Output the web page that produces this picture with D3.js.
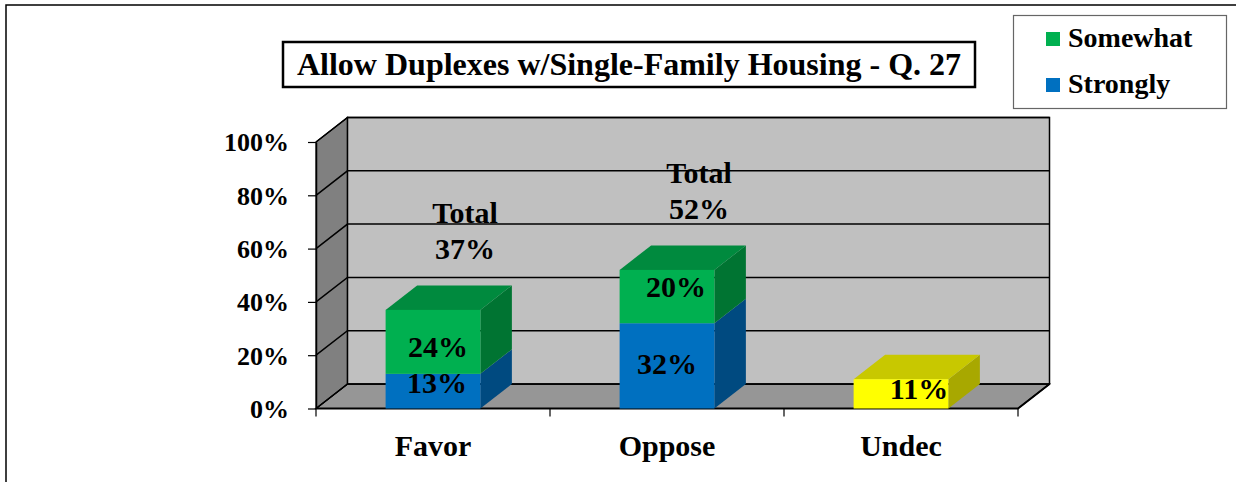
<!DOCTYPE html>
<html>
<head>
<meta charset="utf-8">
<script src="https://cdn.jsdelivr.net/npm/d3@7"></script>
<style>
  body { margin: 0; background: #fff; }
</style>
</head>
<body>
<div id="chart"></div>
<script>
// data
var categories = ["Favor", "Oppose", "Undec"];
var strongly = [0.13, 0.32, 0];
var somewhat = [0.24, 0.20, 0];
var undecided = [0, 0, 0.11];
var yTicks = [0, 0.2, 0.4, 0.6, 0.8, 1];
var seriesNames = ["Strongly", "Somewhat", "Undec"];
var legendItems = ["Somewhat", "Strongly"];
var titleText = "Allow Duplexes w/Single-Family Housing - Q. 27";

// label nudges, Excel puts the labels a bit off the middle
var labelNudge = {
  "Strongly": [[4, -8], [0, -2], [0, 0]],
  "Somewhat": [[5, 5], [9, -10], [0, 0]],
  "Undec": [[0, 0], [0, 0], [18, -5]]
};

var FONT = "'Liberation Serif', 'DejaVu Serif', serif";
var width = 1236, height = 482;

var svg = d3.select("#chart").append("svg")
    .attr("width", width)
    .attr("height", height);

function txt(sel, size) {
  return sel.style("font-family", FONT)
    .style("font-weight", "bold")
    .style("font-size", size + "px")
    .attr("fill", "#000");
}

// outer frame (only top & left show up)
svg.append("path")
    .attr("d", "M6,482V5H1236")
    .attr("fill", "none")
    .attr("stroke", "#000")
    .attr("stroke-width", 1.5);

var x = d3.scaleBand()
    .domain(categories)
    .range([316, 1018]);

var y = d3.scaleLinear()
    .domain([0, 1])
    .range([408.5, 142]);

var dx = 31.5, dy = -24.5;   // 3d depth
var barW = x.bandwidth() * 0.405;

var colors = {
  "Strongly": {front: "#0070C0", top: "#005A9A", side: "#004A80"},
  "Somewhat": {front: "#00B050", top: "#008A3E", side: "#007432"},
  "Undec":    {front: "#FFFF00", top: "#C8C800", side: "#A8A800"}
};

var x0 = x.range()[0], x1 = x.range()[1];
var y0 = y(0), y1 = y(1);

// walls
var walls = svg.append("g");
walls.append("polygon")   // floor
    .attr("points", [[x0, y0], [x1, y0], [x1 + dx, y0 + dy], [x0 + dx, y0 + dy]].join(" "))
    .attr("fill", "#969696")
    .attr("stroke", "#000").attr("stroke-width", 1.2);
walls.append("polygon")   // left wall
    .attr("points", [[x0, y0], [x0, y1], [x0 + dx, y1 + dy], [x0 + dx, y0 + dy]].join(" "))
    .attr("fill", "#808080")
    .attr("stroke", "#000").attr("stroke-width", 1.2);
walls.append("rect")      // back wall
    .attr("x", x0 + dx).attr("y", y1 + dy)
    .attr("width", x1 - x0).attr("height", y0 - y1)
    .attr("fill", "#C0C0C0")
    .attr("stroke", "#000").attr("stroke-width", 1.5);

// gridlines: back wall + diagonal on left wall
walls.selectAll(".grid")
    .data(yTicks)
    .enter().append("path")
    .attr("class", "grid")
    .attr("d", function(d) {
      return "M" + x0 + "," + y(d) + "L" + (x0 + dx) + "," + (y(d) + dy) + "H" + (x1 + dx);
    })
    .attr("fill", "none")
    .attr("stroke", "#000")
    .attr("stroke-width", 1.5);

// front floor edge + right floor edge
walls.append("path")
    .attr("d", "M" + x0 + "," + y0 + "H" + x1 + "L" + (x1 + dx) + "," + (y0 + dy))
    .attr("fill", "none").attr("stroke", "#000").attr("stroke-width", 2);

// y axis
var yAxis = svg.append("g")
    .attr("transform", "translate(" + x0 + ",0)")
    .call(d3.axisLeft(y).tickValues(yTicks).tickFormat(d3.format(".0%"))
      .tickSize(8).tickSizeOuter(0).tickPadding(19));
yAxis.attr("font-family", null).attr("font-size", null);
yAxis.select(".domain").attr("stroke", "#000").attr("stroke-width", 1.5);
yAxis.selectAll("line").attr("stroke", "#000").attr("stroke-width", 1.2);
txt(yAxis.selectAll("text"), 26).attr("dy", "0.34em");

// x axis ticks at band edges
var edges = categories.map(function(c) { return x(c); }).concat([x1]);
svg.append("g").selectAll("line")
    .data(edges)
    .enter().append("line")
    .attr("x1", function(d) { return d; }).attr("x2", function(d) { return d; })
    .attr("y1", y0).attr("y2", y0 + 8)
    .attr("stroke", "#000").attr("stroke-width", 1.2);

txt(svg.append("g").selectAll("text")
    .data(categories)
    .enter().append("text")
    .attr("x", function(d) { return x(d) + x.bandwidth() / 2; })
    .attr("y", 456)
    .attr("text-anchor", "middle"), 30)
    .text(function(d) { return d; });

// stacked 3d bars
var rows = categories.map(function(c, i) {
  return {cat: c, Strongly: strongly[i], Somewhat: somewhat[i], Undec: undecided[i]};
});
var stack = d3.stack().keys(seriesNames)(rows);
var totals = rows.map(function(r) { return r.Strongly + r.Somewhat + r.Undec; });

var bars = svg.append("g");
stack.forEach(function(series) {
  var key = series.key;
  series.forEach(function(seg, i) {
    if (seg[1] - seg[0] <= 0) return;
    var cx = x(categories[i]) + x.bandwidth() / 2;
    var xl = cx - barW / 2, xr = cx + barW / 2;
    var yt = y(seg[1]), yb = y(seg[0]);
    bars.append("polygon")   // side
        .attr("points", [[xr, yb], [xr, yt], [xr + dx, yt + dy], [xr + dx, yb + dy]].join(" "))
        .attr("fill", colors[key].side);
    if (Math.abs(seg[1] - totals[i]) < 1e-9) {
      bars.append("polygon")   // top
          .attr("points", [[xl, yt], [xr, yt], [xr + dx, yt + dy], [xl + dx, yt + dy]].join(" "))
          .attr("fill", colors[key].top);
    }
    bars.append("rect")   // front
        .attr("x", xl).attr("y", yt)
        .attr("width", barW).attr("height", yb - yt)
        .attr("fill", colors[key].front);
  });
});

// value labels
var labels = svg.append("g");
stack.forEach(function(series) {
  var key = series.key;
  series.forEach(function(seg, i) {
    var v = seg[1] - seg[0];
    if (v <= 0) return;
    var cx = x(categories[i]) + x.bandwidth() / 2;
    var nd = labelNudge[key][i];
    txt(labels.append("text")
        .attr("x", cx + nd[0])
        .attr("y", y((seg[0] + seg[1]) / 2) + nd[1])
        .attr("dy", "0.34em")
        .attr("text-anchor", "middle"), 30)
        .text(d3.format(".0%")(v));
  });
});

// totals above the favor/oppose stacks
rows.forEach(function(r, i) {
  var t = r.Strongly + r.Somewhat;
  if (t <= 0) return;
  var cx = x(r.cat) + x.bandwidth() / 2 + 32;
  txt(labels.append("text")
      .attr("x", cx).attr("y", y(t) - 87)
      .attr("text-anchor", "middle"), 30)
      .text("Total");
  txt(labels.append("text")
      .attr("x", cx).attr("y", y(t) - 51)
      .attr("text-anchor", "middle"), 30)
      .text(d3.format(".0%")(t));
});

// title box
var title = svg.append("g");
title.append("rect")
    .attr("x", 283).attr("y", 42)
    .attr("width", 692).attr("height", 45)
    .attr("fill", "#fff")
    .attr("stroke", "#000").attr("stroke-width", 2.5);
txt(title.append("text")
    .attr("x", 283 + 346).attr("y", 75)
    .attr("text-anchor", "middle"), 32)
    .text(titleText);

// legend
var legend = svg.append("g");
legend.append("rect")
    .attr("x", 1013.5).attr("y", 15.5)
    .attr("width", 213).attr("height", 93)
    .attr("fill", "#fff")
    .attr("stroke", "#666").attr("stroke-width", 1.2);
var li = legend.selectAll(".item")
    .data(legendItems)
    .enter().append("g")
    .attr("class", "item")
    .attr("transform", function(d, i) { return "translate(1046," + (32 + i * 46) + ")"; });
li.append("rect")
    .attr("width", 14).attr("height", 14)
    .attr("fill", function(d) { return colors[d].front; });
txt(li.append("text")
    .attr("x", 22).attr("y", 15), 28)
    .text(function(d) { return d; });
</script>
</body>
</html>
